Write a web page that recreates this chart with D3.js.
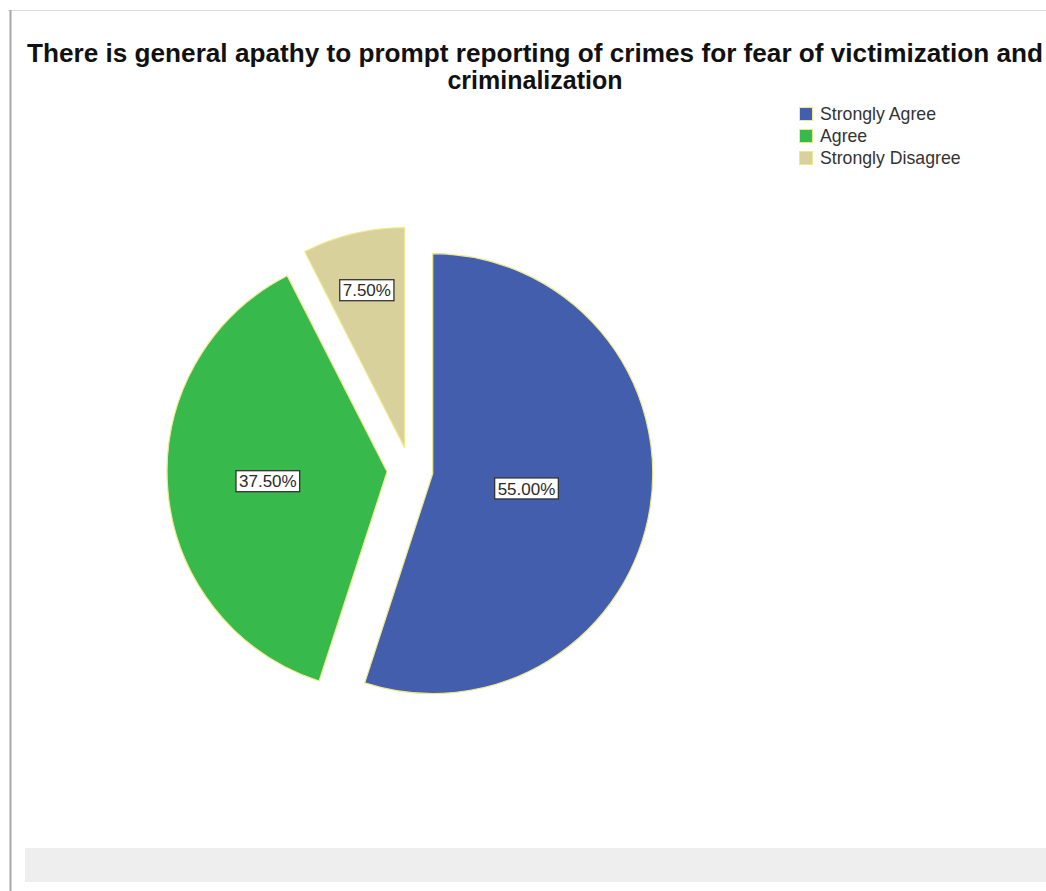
<!DOCTYPE html>
<html><head>
<meta charset="utf-8">
<title>Apathy to prompt reporting of crimes</title>
<script src="https://d3js.org/d3.v7.min.js"></script>
<style>
  body { margin: 0; background: #fff; }
  text { font-family: Arial, "Liberation Sans", sans-serif; }
</style>
</head>
<body>
<svg id="chart" width="1046" height="891"></svg>

<script>
// data
let categories = ["Strongly Agree", "Agree", "Strongly Disagree"];
let percents = [55.0, 37.5, 7.5];
let colors = ["#425ead", "#37b94b", "#d8d19c"];
let titleLines = ["There is general apathy to prompt reporting of crimes for fear of victimization and",
                  "criminalization"];

let svg = d3.select("#chart");

// frame like the output viewer
svg.append("line").attr("x1", 8).attr("x2", 1046).attr("y1", 10.5).attr("y2", 10.5)
   .style("stroke", "#dcdcdc");
svg.append("line").attr("x1", 10.5).attr("x2", 10.5).attr("y1", 10).attr("y2", 891)
   .style("stroke", "#a8a8a8").style("stroke-width", 2);
svg.append("rect").attr("x", 25).attr("y", 848).attr("width", 1021).attr("height", 34)
   .style("fill", "#eeeeee");

// title
svg.selectAll("text.title")
  .data(titleLines)
  .join("text")
  .attr("class", "title")
  .attr("x", 535)
  .attr("y", (d, i) => 62 + i * 27)
  .attr("text-anchor", "middle")
  .attr("textLength", (d, i) => i == 0 ? 1016 : null)
  .attr("lengthAdjust", "spacingAndGlyphs")
  .style("font-size", "25px")
  .style("font-weight", "bold")
  .style("fill", "#111")
  .text(d => d);

// pie
let cx = 410, cy = 470, radius = 220, explode = 23;

let pie = d3.pie().sort(null).value(d => d.v);
let arcs = pie(categories.map((c, i) => ({ c: c, v: percents[i], col: colors[i] })));
let arc = d3.arc().innerRadius(0).outerRadius(radius);

let g = svg.append("g").attr("transform", `translate(${cx},${cy})`);

function offset(d, dist) {
  let mid = (d.startAngle + d.endAngle) / 2;
  return [Math.sin(mid) * dist, -Math.cos(mid) * dist];
}

let slices = g.selectAll("g.slice")
  .data(arcs)
  .join("g")
  .attr("class", "slice")
  .attr("transform", d => `translate(${offset(d, explode)})`);

slices.append("path")
  .attr("d", arc)
  .style("fill", d => d.data.col)
  .style("stroke", "#eeea8c")
  .style("stroke-width", 1.2);

// labels: thinner slices get their label further out
slices.each(function(d) {
  let deg = (d.endAngle - d.startAngle) * 180 / Math.PI;
  let p = offset(d, radius * (0.784 - 0.00178 * deg));
  let lab = d3.select(this).append("g").attr("transform", `translate(${p})`);
  let t = lab.append("text")
    .attr("text-anchor", "middle")
    .attr("dy", "0.36em")
    .style("font-size", "17px")
    .style("fill", "#2a2a2a")
    .text(d.data.v.toFixed(2) + "%");
  let bb = t.node().getBBox();
  lab.insert("rect", "text")
    .attr("x", bb.x - 3).attr("y", -10.5)
    .attr("width", bb.width + 6).attr("height", 21)
    .style("fill", "#fff")
    .style("stroke", "#333")
    .style("stroke-width", 1.3);
});

// legend
let legend = svg.append("g").attr("transform", "translate(799,107)");
let items = legend.selectAll("g")
  .data(categories)
  .join("g")
  .attr("transform", (d, i) => `translate(0,${i * 22})`);

items.append("rect")
  .attr("width", 13).attr("height", 13)
  .attr("x", 0.5).attr("y", 0.5)
  .style("fill", (d, i) => colors[i])
  .style("stroke", "#eeea8c");

items.append("text")
  .attr("x", 21).attr("y", 13)
  .style("font-size", "17.7px")
  .style("fill", "#333")
  .text(d => d);
</script>
</body>
</html>
